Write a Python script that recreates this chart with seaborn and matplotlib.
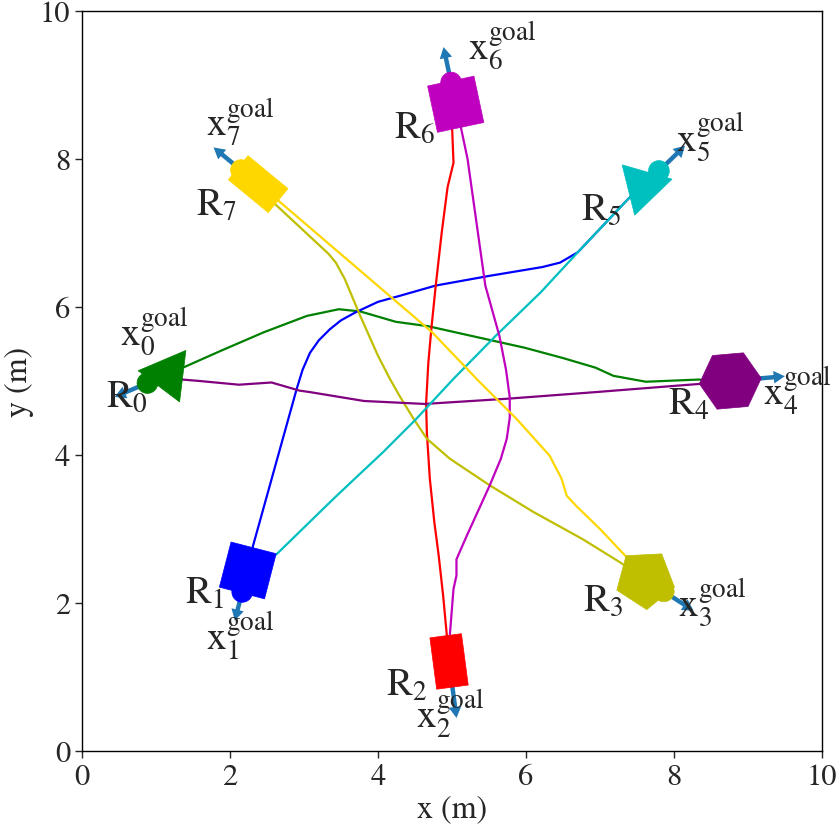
import numpy as np
import pandas as pd
import matplotlib
matplotlib.use('agg')
import matplotlib.pyplot as plt
from matplotlib.patches import RegularPolygon, Rectangle, Circle
import seaborn as sns

# robots: centre, heading (deg), body shape
robot_ids = [0, 1, 2, 3, 4, 5, 6, 7]
robot_colors = ['#008000', '#0000ff', '#ff0000', '#bfbf00', '#800080', '#00bfbf', '#bf00bf', '#ffd700']
center_x = [1.16, 2.24, 4.96, 7.61, 8.76, 7.58, 5.05, 2.38]
center_y = [5.09, 2.44, 1.21, 2.32, 5.00, 7.63, 8.74, 7.66]
heading = [203, -104.5, -82.5, -33, 5, 44, 102, 140.5]
shape = ['tri', 'rect', 'rect', 'pent', 'hex', 'tri', 'rect', 'rect']
shape_len = [0.405, 0.63, 0.70, 0.41, 0.42, 0.405, 0.64, 0.70]
shape_wid = [0, 0.63, 0.43, 0, 0, 0, 0.64, 0.42]
shape_turn = [0, 0, 0, 0, 30, 0, 0, 0]
has_head = [True, True, False, True, False, True, True, True]
arrow_len = [0.78, 0.70, 0.77, 0.78, 0.74, 0.79, 0.79, 0.78]

# label anchors
r_lab_x = [0.60, 1.66, 4.39, 7.04, 8.20, 7.01, 4.49, 1.82]
r_lab_y = [4.79, 2.13, 0.89, 2.03, 4.69, 7.32, 8.43, 7.37]
g_lab_x = [0.97, 2.14, 4.97, 8.51, 9.67, 8.49, 5.68, 2.14]
g_lab_y = [5.68, 1.57, 0.52, 2.01, 4.88, 8.32, 9.54, 8.50]

# trajectories
traj_x = {
    0: [8.40, 8.34, 7.62, 7.18, 6.94, 6.5, 5.98, 5.26, 4.68, 4.24, 3.76, 3.47, 3.04, 2.46, 1.88, 1.16],
    1: [7.58, 7.38, 6.70, 6.46, 6.22, 5.50, 4.78, 4.29, 4.00, 3.70, 3.50, 3.35, 3.20, 3.08, 2.98, 2.90, 2.31, 2.24],
    2: [5.00, 5.02, 4.94, 4.86, 4.78, 4.72, 4.68, 4.65, 4.66, 4.70, 4.76, 4.82, 4.88, 4.93, 4.96],
    3: [2.38, 2.61, 3.33, 3.43, 3.55, 3.76, 4.00, 4.16, 4.29, 4.48, 4.66, 4.97, 5.51, 6.10, 6.77, 7.27, 7.61],
    4: [1.00, 1.35, 1.59, 2.12, 2.56, 2.94, 3.08, 3.81, 4.63, 5.74, 6.94, 8.08, 8.34, 8.60],
    5: [2.45, 2.63, 3.00, 3.40, 3.75, 4.07, 4.50, 5.02, 5.59, 6.20, 6.70, 7.38, 7.58],
    6: [4.96, 4.97, 5.02, 5.06, 5.06, 5.20, 5.51, 5.66, 5.74, 5.78, 5.78, 5.73, 5.64, 5.45, 5.21, 5.13, 5.05],
    7: [7.61, 7.34, 7.00, 6.68, 6.55, 6.48, 6.32, 5.87, 5.33, 5.16, 4.73, 2.65, 2.38],
}
traj_y = {
    0: [5.01, 5.02, 4.99, 5.07, 5.18, 5.31, 5.45, 5.61, 5.74, 5.80, 5.94, 5.97, 5.88, 5.66, 5.41, 5.09],
    1: [7.63, 7.46, 6.74, 6.60, 6.54, 6.42, 6.29, 6.15, 6.07, 5.93, 5.82, 5.70, 5.55, 5.38, 5.15, 4.89, 2.77, 2.44],
    2: [8.45, 7.95, 7.62, 7.00, 6.29, 5.70, 5.25, 4.70, 4.30, 3.68, 3.10, 2.64, 2.10, 1.56, 1.21],
    3: [7.66, 7.39, 6.72, 6.60, 6.38, 5.88, 5.34, 5.03, 4.80, 4.49, 4.22, 3.95, 3.59, 3.23, 2.86, 2.55, 2.32],
    4: [5.00, 5.02, 5.00, 4.95, 4.98, 4.87, 4.85, 4.73, 4.69, 4.76, 4.85, 4.94, 4.96, 5.00],
    5: [2.55, 2.66, 3.02, 3.41, 3.74, 4.04, 4.47, 5.03, 5.61, 6.20, 6.74, 7.46, 7.63],
    6: [1.21, 1.56, 2.19, 2.37, 2.59, 2.91, 3.59, 3.95, 4.22, 4.50, 4.78, 5.15, 5.61, 6.29, 8.00, 8.38, 8.74],
    7: [2.32, 2.64, 3.00, 3.31, 3.45, 3.68, 3.99, 4.49, 5.03, 5.21, 5.66, 7.44, 7.66],
}

rows = []
for rid in robot_ids:
    for k, (px, py) in enumerate(zip(traj_x[rid], traj_y[rid])):
        rows.append({'robot': rid, 'step': k, 'x': px, 'y': py})
traj = pd.DataFrame(rows)

sns.set_style('ticks')
plt.rcParams['font.family'] = ['STIXGeneral', 'Liberation Serif', 'DejaVu Serif']
plt.rcParams['mathtext.fontset'] = 'stix'

fig = plt.figure(figsize=(8.37, 8.29), dpi=100)
ax = fig.add_axes([0.098, 0.0929, 0.8841, 0.8926])

sns.lineplot(data=traj, x='x', y='y', hue='robot', units='robot', estimator=None,
             sort=False, palette=robot_colors, legend=False, lw=1.6, ax=ax, zorder=1.5)

for i in robot_ids:
    cx, cy, th = center_x[i], center_y[i], np.deg2rad(heading[i])
    col = robot_colors[i]
    L = arrow_len[i]
    ax.arrow(cx, cy, L * np.cos(th), L * np.sin(th), width=0.06, head_width=0.17,
             head_length=0.15, length_includes_head=True, color='#1f77b4', lw=0, zorder=2)
    if shape[i] == 'rect':
        body = Rectangle((cx - shape_len[i] / 2, cy - shape_wid[i] / 2), shape_len[i], shape_wid[i],
                         angle=heading[i], rotation_point='center', fc=col, ec=col, lw=0.5, zorder=3)
    else:
        nv = {'tri': 3, 'pent': 5, 'hex': 6}[shape[i]]
        body = RegularPolygon((cx, cy), nv, radius=shape_len[i],
                              orientation=np.deg2rad(heading[i] + shape_turn[i]),
                              fc=col, ec=col, lw=0.5, zorder=3)
    ax.add_patch(body)
    if has_head[i]:
        ax.add_patch(Circle((cx + 0.30 * np.cos(th), cy + 0.30 * np.sin(th)), 0.14,
                            fc=col, ec=col, lw=0.5, zorder=3))
    ax.text(r_lab_x[i], r_lab_y[i], r'$\mathrm{R}_{%d}$' % i, fontsize=28,
            ha='center', va='center', zorder=5)
    ax.text(g_lab_x[i], g_lab_y[i], r'$\mathrm{x}_{%d}^{\mathrm{goal}}$' % i, fontsize=28,
            ha='center', va='center', zorder=5)

ax.set_xlim(0, 10)
ax.set_ylim(0, 10)
ax.set_xticks([0, 2, 4, 6, 8, 10])
ax.set_yticks([0, 2, 4, 6, 8, 10])
ax.tick_params(direction='out', length=5, width=1, labelsize=22)
for sp in ax.spines.values():
    sp.set_linewidth(1)
    sp.set_color('black')
ax.set_xlabel('x (m)', fontsize=23, labelpad=2)
ax.set_ylabel('y (m)', fontsize=23, labelpad=4)

fig.savefig('out.png', dpi=100)
